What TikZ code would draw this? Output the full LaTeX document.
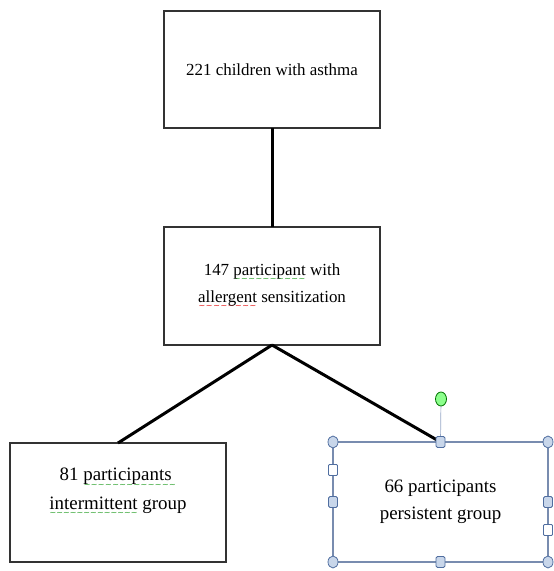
\documentclass[tikz,border=0pt]{standalone}
\usepackage{fontspec}
\setmainfont{Liberation Serif}
\newfontfamily\wavefont{DejaVu Sans}
% spell-check squiggle under a word
\newcommand\wavy[2]{\setbox0\hbox{#2}\leavevmode
  \rlap{\raisebox{-6.5bp}{\textcolor{#1}{\hbox to \wd0{\fontsize{8}{8}\wavefont\xleaders\hbox{\char"223C}\hfil}}}}\box0\relax}
\definecolor{selblue}{RGB}{120,140,175}
\definecolor{handlefill}{RGB}{200,214,234}
\definecolor{handleline}{RGB}{80,110,160}
\definecolor{spellgreen}{RGB}{40,160,40}
\definecolor{spellred}{RGB}{230,20,20}
\tikzset{
  box/.style={draw=black!80,line width=1.3bp,fill=white,outer sep=0pt,
    minimum width=216bp,minimum height=118bp,align=center},
  link/.style={line width=3bp},
  handle/.style={draw=handleline,fill=handlefill,line width=0.8bp},
}
\begin{document}
\begin{tikzpicture}[x=1bp,y=-1bp]
  \useasboundingbox (0,0) rectangle (554,571);
  % boxes
  \node[box,minimum height=117bp,font=\fontsize{17}{27}\selectfont] (asthma) at (272,69.5)
    {221 children with asthma};
  \node[box,font=\fontsize{17}{27}\selectfont] (sens) at (272,286)
    {147 \wavy{spellgreen}{participant} with\\ \wavy{spellred}{allergent} sensitization};
  \node[box,minimum height=119bp] (inter) at (118,502.5) {};
  \node[align=center,font=\fontsize{19}{29}\selectfont] (intertext) at (118,492)
    {81 \wavy{spellgreen}{participants\ }\\ \wavy{spellgreen}{intermittent} group};
  \node[box,draw=selblue,minimum width=215bp,minimum height=120bp,
    font=\fontsize{19}{27}\selectfont] (persist) at (440.5,502)
    {66 participants\\ persistent group};
  % connectors
  \draw[link] (asthma.south) -- (sens.north);
  \draw[link] (sens.south) -- (inter.north);
  \draw[link] (sens.south) -- (persist.north);
  % selection handles
  \coordinate (rot) at (441,399);
  \draw[handleline!60,line width=0.7bp] (rot) -- (persist.north);
  \filldraw[draw=green!45!black,fill=green!45!white,line width=0.8bp] (rot) ellipse (5.5 and 7);
  \foreach \c in {north west,north east,south west,south east}
    \filldraw[handle] (persist.\c) ellipse (5 and 6);
  \foreach \c in {north,south,west,east}
    \filldraw[handle,rounded corners=1.5bp] ([shift={(-4.5,-5.5)}]persist.\c) rectangle ++(9,11);
  \filldraw[handle,fill=white,rounded corners=1bp] (328.5,464.5) rectangle ++(9,11);
  \filldraw[handle,fill=white,rounded corners=1bp] (543.5,524.5) rectangle ++(9,11);
\end{tikzpicture}
\end{document}
